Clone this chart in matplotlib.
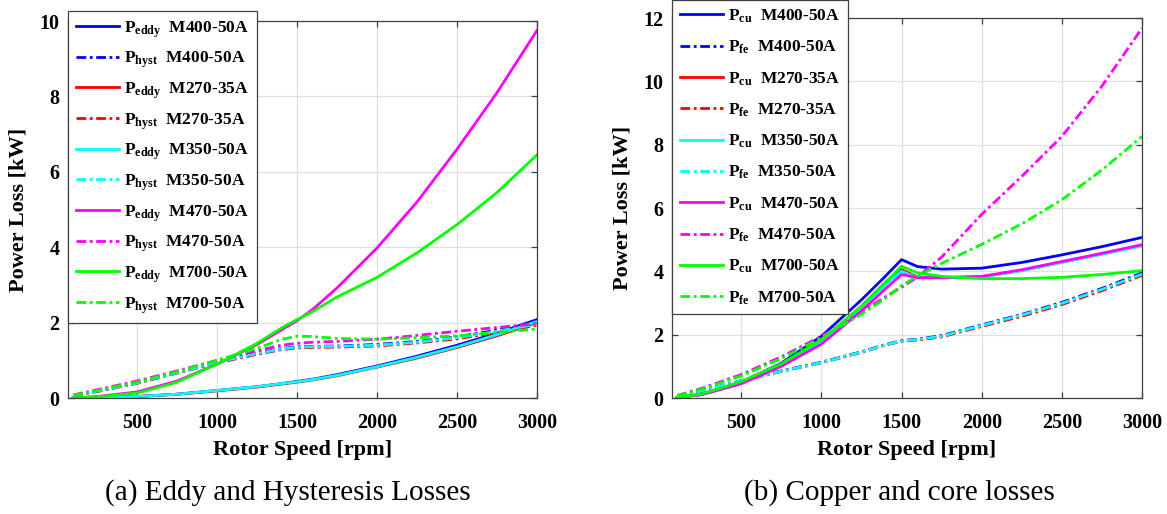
import matplotlib
matplotlib.use("Agg")
import matplotlib.pyplot as plt

plt.rcParams["font.family"] = ["Liberation Serif", "DejaVu Serif"]
plt.rcParams["font.weight"] = "bold"
plt.rcParams["mathtext.fontset"] = "custom"
plt.rcParams["mathtext.rm"] = "Liberation Serif:bold"
plt.rcParams["mathtext.bf"] = "Liberation Serif:bold"
plt.rcParams["mathtext.it"] = "Liberation Serif:bold"

# rotor speed samples [rpm]
rpm = [100, 250, 500, 750, 1000, 1250, 1400, 1500, 1600, 1750, 2000, 2250, 2500, 2750, 3000]

materials = ["M400-50A", "M270-35A", "M350-50A", "M470-50A", "M700-50A"]
colors = ["#0000ff", "#ff0000", "#00ffff", "#ff00ff", "#00ff00"]

# (a) eddy / hysteresis losses [kW]
eddy_m400 = [0.0, 0.01, 0.04, 0.1, 0.2, 0.3, 0.38, 0.44, 0.5, 0.62, 0.85, 1.11, 1.40, 1.72, 2.08]
eddy_m270 = [0.0, 0.01, 0.04, 0.1, 0.19, 0.29, 0.37, 0.42, 0.48, 0.59, 0.82, 1.06, 1.34, 1.65, 2.0]
eddy_m350 = [0.0, 0.01, 0.04, 0.1, 0.2, 0.3, 0.38, 0.43, 0.49, 0.6, 0.83, 1.08, 1.36, 1.68, 2.03]
eddy_m470 = [0.0, 0.04, 0.16, 0.45, 0.9, 1.42, 1.8, 2.05, 2.36, 2.92, 3.98, 5.2, 6.6, 8.1, 9.75]
eddy_m700 = [0.0, 0.03, 0.13, 0.42, 0.9, 1.45, 1.85, 2.08, 2.3, 2.68, 3.2, 3.85, 4.6, 5.45, 6.45]

hyst_m400 = [0.06, 0.18, 0.4, 0.67, 0.95, 1.19, 1.31, 1.36, 1.37, 1.38, 1.42, 1.5, 1.62, 1.8, 2.0]
hyst_m270 = [0.06, 0.17, 0.39, 0.66, 0.93, 1.16, 1.28, 1.33, 1.34, 1.35, 1.38, 1.46, 1.57, 1.74, 1.93]
hyst_m350 = [0.06, 0.18, 0.4, 0.67, 0.95, 1.18, 1.3, 1.35, 1.36, 1.37, 1.4, 1.48, 1.6, 1.77, 1.96]
hyst_m470 = [0.08, 0.22, 0.45, 0.72, 1.0, 1.25, 1.4, 1.45, 1.48, 1.5, 1.56, 1.66, 1.77, 1.87, 1.97]
hyst_m700 = [0.07, 0.2, 0.42, 0.7, 1.0, 1.32, 1.55, 1.64, 1.63, 1.58, 1.56, 1.6, 1.65, 1.74, 1.83]

# (b) copper / core losses [kW]
pcu_m400 = [0.02, 0.12, 0.5, 1.1, 1.95, 3.1, 3.85, 4.37, 4.15, 4.07, 4.1, 4.28, 4.52, 4.78, 5.07]
pcu_m270 = [0.02, 0.11, 0.47, 1.04, 1.8, 2.9, 3.65, 4.05, 3.82, 3.8, 3.83, 4.03, 4.29, 4.55, 4.82]
pcu_m350 = [0.02, 0.11, 0.46, 1.02, 1.76, 2.85, 3.58, 4.0, 3.8, 3.79, 3.82, 4.02, 4.28, 4.54, 4.8]
pcu_m470 = [0.02, 0.1, 0.45, 1.0, 1.7, 2.75, 3.45, 3.9, 3.8, 3.8, 3.84, 4.05, 4.31, 4.57, 4.84]
pcu_m700 = [0.02, 0.12, 0.52, 1.08, 1.84, 2.9, 3.65, 4.16, 3.95, 3.84, 3.77, 3.77, 3.81, 3.9, 4.02]

pfe_m400 = [0.05, 0.22, 0.55, 0.86, 1.13, 1.46, 1.69, 1.81, 1.86, 1.97, 2.31, 2.64, 3.02, 3.46, 3.95]
pfe_m270 = [0.05, 0.21, 0.54, 0.84, 1.11, 1.44, 1.67, 1.79, 1.83, 1.93, 2.26, 2.58, 2.95, 3.39, 3.87]
pfe_m350 = [0.05, 0.22, 0.55, 0.85, 1.12, 1.45, 1.68, 1.8, 1.85, 1.95, 2.29, 2.62, 2.99, 3.43, 3.91]
pfe_m470 = [0.08, 0.3, 0.74, 1.3, 1.95, 2.72, 3.2, 3.5, 3.82, 4.45, 5.8, 7.0, 8.26, 9.85, 11.68]
pfe_m700 = [0.07, 0.28, 0.7, 1.25, 1.9, 2.65, 3.15, 3.55, 3.85, 4.25, 4.85, 5.5, 6.26, 7.2, 8.26]

eddy = [eddy_m400, eddy_m270, eddy_m350, eddy_m470, eddy_m700]
hyst = [hyst_m400, hyst_m270, hyst_m350, hyst_m470, hyst_m700]
pcu = [pcu_m400, pcu_m270, pcu_m350, pcu_m470, pcu_m700]
pfe = [pfe_m400, pfe_m270, pfe_m350, pfe_m470, pfe_m700]

DASHDOT = (0, (3.5, 1.3, 1.0, 1.3))
LW = 2.0
W, H = 1167, 514


def _style(ax, ylim, yticks):
    ax.set_xlim(68, 3000)
    ax.set_ylim(*ylim)
    ax.set_xticks([500, 1000, 1500, 2000, 2500, 3000])
    ax.set_yticks(yticks)
    ax.grid(True, color="0.88", lw=0.9)
    ax.set_axisbelow(True)
    ax.tick_params(direction="in", top=True, right=True, length=4, width=0.9,
                   color="0.25", labelsize=14.5)
    ax.tick_params(axis="x", pad=11)
    ax.tick_params(axis="y", pad=6)
    for sp in ax.spines.values():
        sp.set_color("0.25")
        sp.set_linewidth(0.9)
    ax.set_xlabel("Rotor Speed [rpm]", fontsize=16, fontweight="bold", labelpad=5)
    ax.set_ylabel("Power Loss [kW]", fontsize=16, fontweight="bold", labelpad=8)


def _panel(ax, solid, dashed, s_sub, d_sub):
    for mat, col, ys, yd in zip(materials, colors, solid, dashed):
        ax.plot(rpm, ys, color=col, lw=LW,
                label=r"$\mathbf{P}_{\mathbf{%s}}$  %s" % (s_sub, mat))
        ax.plot(rpm, yd, color=col, lw=LW, linestyle=DASHDOT,
                label=r"$\mathbf{P}_{\mathbf{%s}}$  %s" % (d_sub, mat))


fig = plt.figure(figsize=(W / 100, H / 100), dpi=100)
ax1 = fig.add_axes([68 / W, 116 / H, 469 / W, 377 / H])
ax2 = fig.add_axes([672 / W, 116 / H, 470 / W, 380 / H])

_panel(ax1, eddy, hyst, "eddy", "hyst")
_style(ax1, (0, 10), [0, 2, 4, 6, 8, 10])
_panel(ax2, pcu, pfe, "cu", "fe")
_style(ax2, (0, 12), [0, 2, 4, 6, 8, 10, 12])

for ax, top, spacing in ((ax1, 1.026, 0.58), (ax2, 1.048, 0.80)):
    leg = ax.legend(loc="upper left", bbox_to_anchor=(0.0, top), borderaxespad=0,
                    fontsize=12.5, handlelength=2.5, handletextpad=0.3,
                    labelspacing=spacing, borderpad=0.45, fancybox=False,
                    framealpha=1, edgecolor="0.25")
    leg.get_frame().set_linewidth(0.9)

fig.text(288 / W, 1 - 493 / H, "(a) Eddy and Hysteresis Losses", fontsize=21,
         fontweight="normal", ha="center", va="center")
fig.text(899 / W, 1 - 493 / H, "(b) Copper and core losses", fontsize=21,
         fontweight="normal", ha="center", va="center")

fig.savefig("out.png", dpi=100)
